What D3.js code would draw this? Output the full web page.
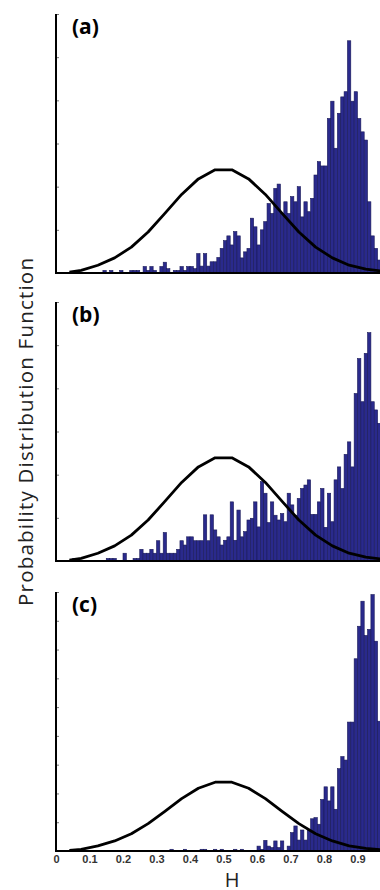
<!DOCTYPE html>
<html><head><meta charset="utf-8">
<script src="https://cdn.jsdelivr.net/npm/d3@7/dist/d3.min.js"></script>
<style>body{margin:0;background:#fff}svg{display:block}</style>
</head><body>
<script>
// ---- data ----
const panelLabels = ["(a)", "(b)", "(c)"];
const binWidth = 0.01;
const histA = [0,0,0,0,0,0,0,0,0,0,0,0,0,0,0.06,0,0.06,0,0,0.06,
  0,0,0.06,0.06,0.06,0,0.15,0.06,0.15,0.06,0,0.15,0.25,0.1,0,0.06,0.06,0.15,0.06,0.15,
  0.15,0.1,0.45,0.16,0.45,0.16,0.26,0.26,0.36,0.57,0.75,0.86,0.65,0.96,0.86,0.35,0.49,0.57,1.27,1.07,
  0.65,1.0,1.19,1.61,1.38,1.96,2.06,1.38,1.65,1.38,1.77,1.65,2.0,1.30,1.65,1.42,1.73,2.27,2.58,2.48,
  2.48,3.58,3.98,2.89,3.70,4.08,4.20,5.38,3.98,4.20,3.58,3.27,3.08,1.65,0.86,0.57,0.30,0.12,0.05,0];
const histB = [0,0,0,0,0,0.06,0,0,0,0,0,0,0,0,0,0.06,0.06,0.06,0,0,
  0.18,0,0,0.06,0.06,0.27,0.18,0.18,0.27,0.18,0.47,0.18,0.66,0.18,0.18,0.18,0.27,0.47,0.37,0.56,
  0.56,0.47,0.47,0.47,1.07,0.47,1.07,0.72,0.56,0.37,0.48,0.56,1.37,0.48,1.18,0.56,0.68,0.95,0.99,1.37,
  0.79,1.84,1.57,0.89,1.37,1.06,0.95,1.10,0.91,1.57,1.30,1.06,1.45,1.68,1.76,1.88,1.08,1.08,1.37,1.68,
  0.78,1.57,0.91,1.88,2.18,1.68,2.47,2.76,2.18,3.88,4.69,3.69,4.81,5.29,3.69,3.50,3.19,2.5,1.5,0.5];
const histC = [0,0,0,0,0,0,0,0,0,0,0,0,0,0,0,0,0,0,0,0,
  0,0,0,0,0,0,0,0,0,0,0,0,0,0,0.06,0,0,0,0.06,0,
  0,0,0,0.06,0.06,0,0,0.06,0,0.06,0,0,0,0.06,0,0.06,0,0,0,0,
  0.17,0.06,0.37,0.17,0.12,0.35,0.12,0.35,0,0.17,0.64,0.87,0.38,0.73,0.38,0.75,1.12,1.16,0.93,1.79,
  2.23,1.74,2.23,1.45,2.86,3.28,3.16,4.48,4.48,6.68,7.81,8.68,7.49,7.70,8.91,7.29,4.51,2.3,1.0,0.3];
const histograms = [histA, histB, histC];
const yMaxes = [6, 6, 9];
// reference normal curve, same in all panels
const curveH = [0.04,0.075,0.125,0.175,0.225,0.275,0.325,0.375,0.425,0.475,
                0.525,0.575,0.625,0.675,0.725,0.775,0.825,0.875,0.925,0.975];
const curvePDF = [0.02,0.06,0.18,0.35,0.60,0.95,1.38,1.82,2.18,2.39,
                  2.39,2.18,1.82,1.38,0.95,0.60,0.35,0.18,0.09,0.04];
const xTickValues = [0,0.1,0.2,0.3,0.4,0.5,0.6,0.7,0.8,0.9,1];
const xTickLabels = ["0","0.1","0.2","0.3","0.4","0.5","0.6","0.7","0.8","0.9","1"];
const xLabel = "H";
const yLabel = "Probability Distribution Function";

// ---- layout ----
const W = 380, H = 890;
const panelTops = [14, 302, 592];
const panelH = 259;
const xLeft = 56, xRight = 391;

const svg = d3.select("body").append("svg").attr("width", W).attr("height", H);
const x = d3.scaleLinear().domain([0, 1]).range([xLeft, xRight]);

histograms.forEach((hist, p) => {
  const top = panelTops[p], bottom = top + panelH;
  const y = d3.scaleLinear().domain([0, yMaxes[p]]).range([bottom, top]);
  const g = svg.append("g");

  g.selectAll("rect.bar").data(hist).join("rect")
    .attr("class", "bar")
    .attr("x", (d, i) => x(i * binWidth))
    .attr("width", x(binWidth) - x(0))
    .attr("y", d => y(d))
    .attr("height", d => y(0) - y(d))
    .attr("fill", "#2a2a8c")
    .attr("stroke", "#1a1a58")
    .attr("stroke-width", 0.6);

  const line = d3.line().x((d, i) => x(curveH[i])).y(d => y(d));
  g.append("path").datum(curvePDF)
    .attr("d", line)
    .attr("fill", "none")
    .attr("stroke", "#000")
    .attr("stroke-width", 2.8)
    .attr("stroke-linejoin", "round");

  // y axis (unlabeled inner ticks)
  const yAxis = d3.axisRight(y).ticks(yMaxes[p]).tickSize(3).tickFormat("");
  const ya = g.append("g").attr("transform", `translate(${xLeft},0)`).call(yAxis);
  ya.select(".domain").remove();
  ya.selectAll(".tick line").attr("stroke", "#777").attr("stroke-width", 1);
  g.append("line").attr("x1", xLeft).attr("x2", xLeft).attr("y1", top).attr("y2", bottom + 1)
    .attr("stroke", "#000").attr("stroke-width", 2);

  // x axis baseline
  g.append("line").attr("x1", xLeft - 1).attr("x2", W).attr("y1", bottom).attr("y2", bottom)
    .attr("stroke", "#000").attr("stroke-width", 2);

  g.append("text").text(panelLabels[p])
    .attr("x", 72).attr("y", top + 20)
    .attr("font-family", "'Open Sans', sans-serif")
    .attr("font-weight", "bold").attr("font-size", 21).attr("fill", "#000");

  if (p === 2) {
    const xAxis = d3.axisBottom(x).tickValues(xTickValues)
      .tickFormat((d, i) => xTickLabels[i]).tickSize(0).tickPadding(4);
    const xa = g.append("g").attr("transform", `translate(0,${bottom})`).call(xAxis);
    xa.select(".domain").remove();
    xa.selectAll("text")
      .attr("font-family", "'Liberation Sans', Arial, sans-serif")
      .attr("font-weight", "bold").attr("font-size", 11).attr("fill", "#333");
  }
});

svg.append("text").text(xLabel)
  .attr("x", 232).attr("y", 887).attr("text-anchor", "middle")
  .attr("font-family", "'Open Sans', sans-serif").attr("font-size", 20).attr("fill", "#222");

svg.append("text").text(yLabel)
  .attr("transform", "translate(33,432) rotate(-90)")
  .attr("text-anchor", "middle")
  .attr("textLength", 348).attr("lengthAdjust", "spacing")
  .attr("font-family", "'Open Sans', sans-serif").attr("font-size", 20.5).attr("fill", "#222");
</script>
</body></html>
